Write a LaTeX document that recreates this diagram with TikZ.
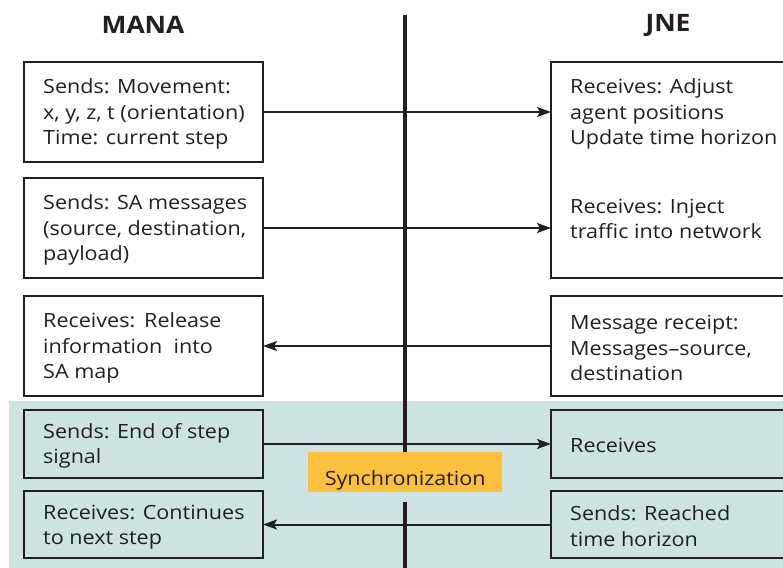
\documentclass[tikz,border=0pt]{standalone}
\usepackage{fontspec}
\setmainfont{Open Sans}[FakeStretch=1.1]
\usetikzlibrary{arrows.meta}
\definecolor{ink}{HTML}{231F20}
\definecolor{tealbg}{HTML}{CDE3E1}
\definecolor{syncor}{HTML}{FDC03E}
\begin{document}
\begin{tikzpicture}[x=1pt,y=-1pt,
  box/.style={draw=ink, line width=2.4pt, inner sep=0pt, outer sep=0pt, anchor=north west},
  txt/.style={anchor=west, align=left, text=ink, font=\fontsize{19.6}{25.5}\selectfont, inner sep=0pt},
  ttl/.style={text=ink, font=\fontsize{24}{28}\selectfont\bfseries, inner sep=0pt},
  conn/.style={draw=ink, line width=2pt},
  tip/.style={-{Stealth[length=14pt,width=10pt,inset=3pt]}}]
\useasboundingbox (0,0) rectangle (783,567);
\clip (0,0) rectangle (783,567);
\fill[tealbg] (9,401) rectangle (790,570);
% titles
\node[ttl] (tmana) at (143,25) {MANA};
\node[ttl] (tjne) at (668,25) {JNE};
% left boxes
\node[box, fill=white, minimum width=239pt, minimum height=100pt] (m1) at (24,62) {};
\node[box, fill=white, minimum width=239pt, minimum height=100pt] (m2) at (24,178) {};
\node[box, fill=white, minimum width=239pt, minimum height=100pt] (m3) at (24,296) {};
\node[box, minimum width=239pt, minimum height=68pt] (m4) at (24,410) {};
\node[box, minimum width=239pt, minimum height=67pt] (m5) at (24,491) {};
% right boxes
\node[box, fill=white, minimum width=260pt, minimum height=216pt] (j1) at (551,62) {};
\node[box, fill=white, minimum width=260pt, minimum height=100pt] (j3) at (551,296) {};
\node[box, minimum width=260pt, minimum height=68pt] (j4) at (551,410) {};
\node[box, minimum width=260pt, minimum height=67pt] (j5) at (551,491) {};
% texts
\node[txt] (tm1) at (43,114) {Sends: Movement:\\x, y, z, t (orientation)\\Time: current step};
\node[txt] (tm2) at (43,230) {Sends: SA messages\\(source, destination,\\payload)};
\node[txt] (tm3) at (43,348) {Receives:\ \,Release\\information\ \ into\\SA map};
\node[txt] (tm4) at (43,446) {Sends: End of step\\signal};
\node[txt] (tm5) at (43,527) {Receives: Continues\\to next step};
\node[txt] (tj1) at (570,114) {Receives: Adjust\\agent positions\\Update time horizon};
\node[txt] (tj2) at (570,219) {Receives: Inject\\traffic into network};
\node[txt] (tj3) at (570,348) {Message receipt:\\Messages--source,\\destination};
\node[txt] (tj4) at (570,445) {Receives};
\node[txt] (tj5) at (570,526) {Sends: Reached\\time horizon};
% synchronization
\node[fill=syncor, inner sep=0pt, minimum width=194pt, minimum height=40pt, anchor=north west, text=ink, font=\fontsize{19.6}{22}\selectfont] (sync) at (308,452) {\raisebox{-13pt}[0pt][0pt]{Synchronization}};
% vertical line
\coordinate (vtop) at (405,15);
\coordinate (vbot) at (405,572);
\coordinate (vres) at (405,502);
\draw[ink, line width=4.5pt] (vtop) -- (vtop |- sync.north);
\draw[ink, line width=4.5pt] (vres) -- (vbot);
% connectors
\draw[conn, tip] (m1.east) -- (m1.east -| j1.west);
\draw[conn, tip] (m2.east) -- (m2.east -| j1.west);
\draw[conn, tip] (j3.west) -- (j3.west -| m3.east);
\draw[conn, tip] (m4.east) -- (m4.east -| j4.west);
\draw[conn, tip] (j5.west) -- (j5.west -| m5.east);
\end{tikzpicture}
\end{document}
